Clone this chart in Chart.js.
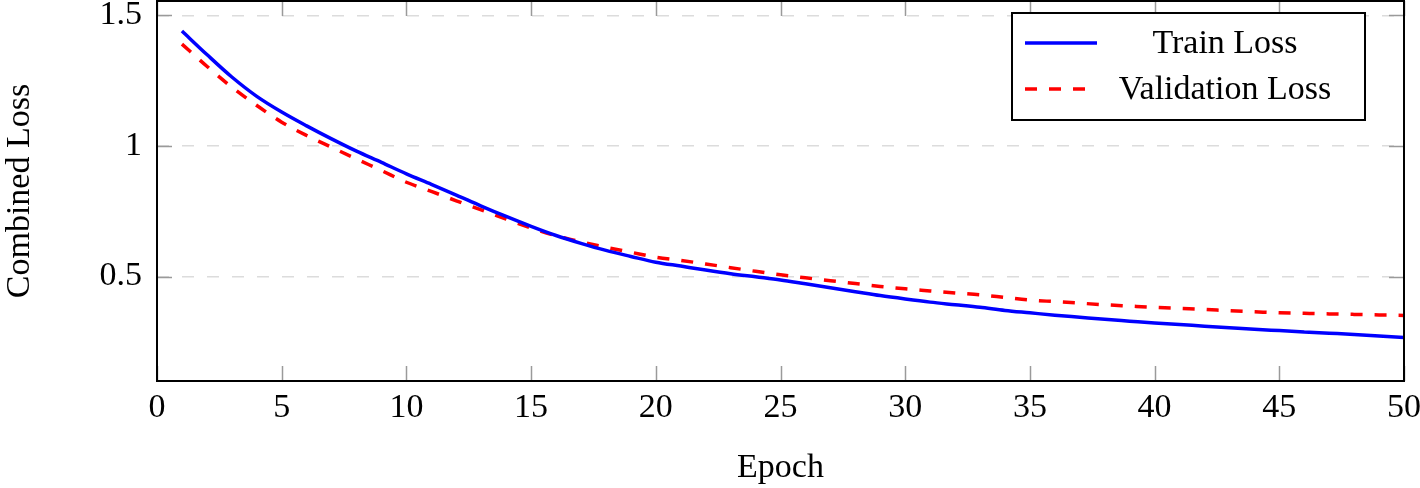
<!DOCTYPE html>
<html lang="en">
<head>
    <meta charset="UTF-8">
    <title>Combined Loss</title>
    <script src="https://cdn.jsdelivr.net/npm/chart.js"></script>
    <style>
        html, body { margin: 0; padding: 0; background: #fff; }
    </style>
</head>
<body>
    <div style="width: 1420px; height: 488px;">
        <canvas id="lossChart"></canvas>
    </div>

    <script>
        // epochs 1..50
        const epochs = [
            1, 2, 3, 4, 5, 6, 7, 8, 9, 10,
            11, 12, 13, 14, 15, 16, 17, 18, 19, 20,
            21, 22, 23, 24, 25, 26, 27, 28, 29, 30,
            31, 32, 33, 34, 35, 36, 37, 38, 39, 40,
            41, 42, 43, 44, 45, 46, 47, 48, 49, 50
        ];

        const trainLoss = [
            1.44, 1.35, 1.264, 1.19, 1.13, 1.077, 1.027, 0.98, 0.937, 0.893,
            0.853, 0.812, 0.77, 0.73, 0.692, 0.657, 0.627, 0.60, 0.577, 0.555,
            0.54, 0.525, 0.511, 0.499, 0.487, 0.472, 0.457, 0.442, 0.427, 0.414,
            0.402, 0.392, 0.382, 0.37, 0.361, 0.352, 0.344, 0.336, 0.329, 0.322,
            0.316, 0.31, 0.304, 0.298, 0.293, 0.288, 0.283, 0.278, 0.272, 0.267
        ];

        const valLoss = [
            1.39, 1.305, 1.225, 1.155, 1.091, 1.04, 0.995, 0.95, 0.906, 0.861,
            0.826, 0.79, 0.755, 0.72, 0.686, 0.656, 0.633, 0.612, 0.593, 0.574,
            0.562, 0.548, 0.534, 0.52, 0.507, 0.495, 0.484, 0.473, 0.462, 0.453,
            0.445, 0.437, 0.43, 0.42, 0.41, 0.404, 0.398, 0.392, 0.387, 0.382,
            0.378, 0.374, 0.369, 0.365, 0.361, 0.359, 0.357, 0.355, 0.353, 0.351
        ];

        const xTicks = [0, 5, 10, 15, 20, 25, 30, 35, 40, 45, 50];
        const yTicks = [0.5, 1, 1.5];

        const seriesNames = ["Train Loss", "Validation Loss"];

        const serif = "'Liberation Serif', 'DejaVu Serif', serif";
        const fontSize = 34;

        // frame, inside tick marks and the boxed legend, pgfplots style
        const framePlugin = {
            id: "frame",
            afterDraw(chart) {
                const ctx = chart.ctx;
                const a = chart.chartArea;
                const xs = chart.scales.x;
                const ys = chart.scales.y;
                const tl = 15;

                ctx.save();
                ctx.strokeStyle = "#9a9a9a";
                ctx.lineWidth = 1.5;
                ctx.beginPath();
                xTicks.forEach(v => {
                    const px = Math.round(xs.getPixelForValue(v)) + 0.5;
                    ctx.moveTo(px, a.bottom); ctx.lineTo(px, a.bottom - tl);
                    ctx.moveTo(px, a.top); ctx.lineTo(px, a.top + tl);
                });
                yTicks.forEach(v => {
                    const py = Math.round(ys.getPixelForValue(v)) + 0.5;
                    ctx.moveTo(a.left, py); ctx.lineTo(a.left + tl, py);
                    ctx.moveTo(a.right, py); ctx.lineTo(a.right - tl, py);
                });
                ctx.stroke();

                ctx.strokeStyle = "#000";
                ctx.lineWidth = 2;
                ctx.strokeRect(a.left, a.top, a.right - a.left, a.bottom - a.top);

                // legend
                const lx = 1012, ly = 13, lw = 353, lh = 107;
                ctx.fillStyle = "#fff";
                ctx.fillRect(lx, ly, lw, lh);
                ctx.strokeRect(lx, ly, lw, lh);

                ctx.font = fontSize + "px " + serif;
                ctx.textAlign = "center";
                ctx.textBaseline = "middle";
                chart.data.datasets.forEach((ds, i) => {
                    const cy = ly + 30 + i * 46;
                    ctx.beginPath();
                    ctx.strokeStyle = ds.borderColor;
                    ctx.lineWidth = 3.5;
                    ctx.setLineDash(ds.borderDash || []);
                    ctx.moveTo(lx + 13, cy);
                    ctx.lineTo(lx + 85, cy);
                    ctx.stroke();
                    ctx.setLineDash([]);
                    ctx.fillStyle = "#000";
                    ctx.fillText(ds.label, 1225, cy + 1);
                });
                ctx.restore();
            }
        };

        // drop the label overflow padding so the plot box reaches the edges
        function noPad(s) {
            s.paddingTop = 0;
            s.paddingBottom = 0;
            s.paddingLeft = 0;
            s.paddingRight = 0;
        }

        const ctx = document.getElementById("lossChart").getContext("2d");
        new Chart(ctx, {
            type: "line",
            data: {
                datasets: [
                    {
                        label: seriesNames[0],
                        data: epochs.map((e, i) => ({ x: e, y: trainLoss[i] })),
                        borderColor: "rgb(0, 0, 255)",
                        borderWidth: 3.5,
                        pointRadius: 0,
                        cubicInterpolationMode: "monotone",
                        fill: false
                    },
                    {
                        label: seriesNames[1],
                        data: epochs.map((e, i) => ({ x: e, y: valLoss[i] })),
                        borderColor: "rgb(255, 0, 0)",
                        borderWidth: 3.5,
                        borderDash: [12, 12],
                        pointRadius: 0,
                        cubicInterpolationMode: "monotone",
                        fill: false
                    }
                ]
            },
            options: {
                responsive: true,
                maintainAspectRatio: false,
                animation: false,
                layout: { padding: { left: 0, right: 16, top: 1, bottom: 0 } },
                plugins: {
                    legend: { display: false },
                    tooltip: { enabled: false }
                },
                scales: {
                    x: {
                        type: "linear",
                        min: 0,
                        max: 50,
                        afterBuildTicks: s => { s.ticks = xTicks.map(v => ({ value: v })); },
                        afterFit: s => { s.height = 107; noPad(s); },
                        grid: { display: false, drawTicks: false },
                        border: { display: false },
                        ticks: {
                            color: "#000",
                            padding: 7,
                            font: { family: serif, size: fontSize },
                            maxRotation: 0
                        },
                        title: {
                            display: true,
                            text: "Epoch",
                            color: "#000",
                            font: { family: serif, size: fontSize },
                            padding: { top: 0, bottom: 0 }
                        }
                    },
                    y: {
                        min: 0.1,
                        max: 1.555,
                        afterBuildTicks: s => { s.ticks = yTicks.map(v => ({ value: v })); },
                        afterFit: s => { s.width = 157; noPad(s); },
                        grid: {
                            color: "#dcdcdc",
                            lineWidth: 1.5,
                            drawTicks: false
                        },
                        border: { display: false, dash: [12, 13] },
                        ticks: {
                            color: "#000",
                            padding: 15,
                            font: { family: serif, size: fontSize },
                            callback: v => String(v)
                        },
                        title: {
                            display: true,
                            text: "Combined Loss",
                            color: "#000",
                            font: { family: serif, size: fontSize },
                            padding: { top: 0, bottom: 0 }
                        }
                    }
                }
            },
            plugins: [framePlugin]
        });
    </script>
</body>
</html>
